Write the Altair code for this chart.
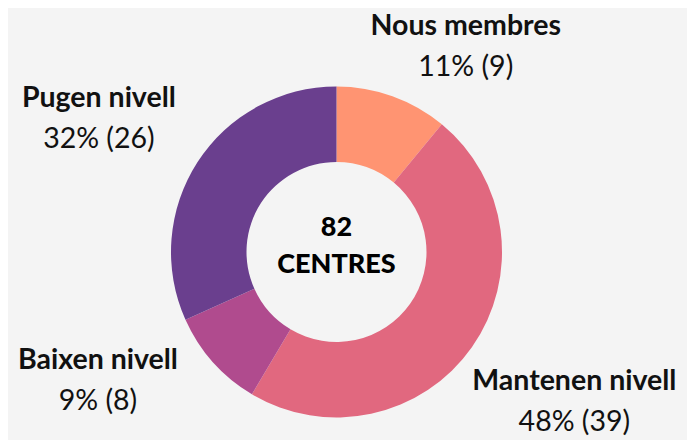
import altair as alt
import pandas as pd

categories = ["Nous membres", "Mantenen nivell", "Baixen nivell", "Pugen nivell"]
counts = [9, 39, 8, 26]
percents = ["11%", "48%", "9%", "32%"]
colors = ["#FF9472", "#E1687F", "#B04B8E", "#6A3F8E"]
center_word = "CENTRES"

df = pd.DataFrame({
    "cat": categories,
    "n": counts,
    "order": list(range(len(categories))),
    "val": [f"{p} ({n})" for p, n in zip(percents, counts)],
})

CX, CY = 328.5, 244
LABEL_FONT = "Lato"

# per-label offsets from the mid-angle anchor (styling only)
dx_expr = ("datum.cat == 'Nous membres' ? 38 : datum.cat == 'Mantenen nivell' ? 17 : "
           "datum.cat == 'Baixen nivell' ? -37 : -11")
dy_base = ("(datum.cat == 'Nous membres' ? 49 : datum.cat == 'Mantenen nivell' ? -6 : "
           "datum.cat == 'Baixen nivell' ? -51 : 13)")

base = alt.Chart(df).encode(
    theta=alt.Theta("n:Q", stack=True),
    order=alt.Order("order:Q"),
    x=alt.value(CX),
    y=alt.value(CY),
)

arcs = base.mark_arc(outerRadius=165.5, innerRadius=90, stroke=None).encode(
    color=alt.Color("cat:N", scale=alt.Scale(domain=categories, range=colors), legend=None)
)

names = base.mark_text(
    radius=270, font=LABEL_FONT, fontSize=28.5, fontWeight="bold", color="#111111",
    align="center", baseline="middle",
    dx={"expr": dx_expr}, dy={"expr": dy_base + " - 20.5"},
).encode(text="cat:N")

vals = base.mark_text(
    radius=270, font=LABEL_FONT, fontSize=28.5, fontWeight="normal", color="#111111",
    align="center", baseline="middle",
    dx={"expr": dx_expr}, dy={"expr": dy_base + " + 20.5"},
).encode(text="val:N")

total = alt.Chart(df).transform_aggregate(total="sum(n)").mark_text(
    font=LABEL_FONT, fontSize=27, fontWeight=900, color="#000000", baseline="middle"
).encode(text="total:Q", x=alt.value(CX), y=alt.value(CY - 24.5))

word = alt.Chart(df).transform_aggregate(total="sum(n)").mark_text(
    font=LABEL_FONT, fontSize=27, fontWeight=900, color="#000000", baseline="middle"
).encode(text=alt.value(center_word), x=alt.value(CX), y=alt.value(CY + 13))

chart = alt.layer(arcs, names, vals, total, word).properties(
    width=679, height=432,
    autosize=alt.AutoSizeParams(type="none"),
    padding=0,
    background="#F4F4F4",
).configure_view(stroke=None)

chart.save("out.html", embed_options={"renderer": "svg", "actions": False})
